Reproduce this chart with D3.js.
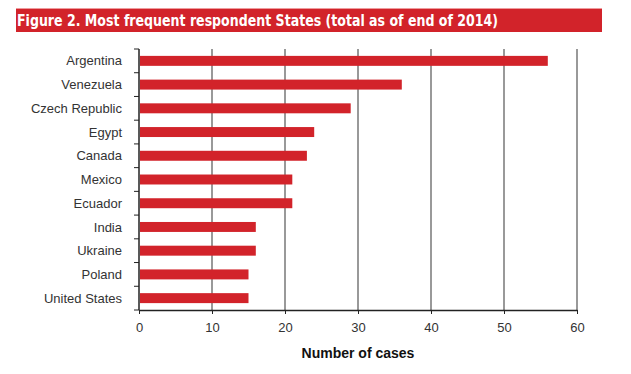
<!DOCTYPE html>
<html>
<head>
<meta charset="utf-8">
<script src="https://cdn.jsdelivr.net/npm/d3@7"></script>
<style>
  body { margin: 0; background: #fff; }
</style>
</head>
<body>
<div id="chart"></div>
<script>
// DATA
const countries = ["Argentina", "Venezuela", "Czech Republic", "Egypt", "Canada", "Mexico",
  "Ecuador", "India", "Ukraine", "Poland", "United States"];
const cases = [56, 36, 29, 24, 23, 21, 21, 16, 16, 15, 15];
const xTicks = [0, 10, 20, 30, 40, 50, 60];

const width = 631, height = 374;
const margin = {top: 49, right: 54, bottom: 64, left: 139};

const svg = d3.select("#chart").append("svg")
  .attr("width", width)
  .attr("height", height)
  .style("font-family", "'Liberation Sans', Arial, sans-serif");

// TITLE BAR
svg.append("rect")
  .attr("x", 16).attr("y", 8).attr("width", 586).attr("height", 24)
  .attr("fill", "#d2232a");
svg.append("rect")
  .attr("x", 16).attr("y", 8).attr("width", 586).attr("height", 1)
  .attr("fill", "#ee9a9d");
svg.append("text")
  .attr("x", 17).attr("y", 25.5)
  .attr("fill", "#fff")
  .attr("font-family", "'DejaVu Sans Condensed', 'Liberation Sans Narrow', sans-serif")
  .attr("font-weight", "bold")
  .attr("font-size", "16.5px")
  .attr("textLength", 481)
  .attr("lengthAdjust", "spacingAndGlyphs")
  .text("Figure 2. Most frequent respondent States (total as of end of 2014)");

// SCALES
const x = d3.scaleLinear().domain([0, 60]).range([margin.left, width - margin.right]);
const y = d3.scaleBand().domain(countries).range([margin.top, height - margin.bottom]).paddingInner(0.58).paddingOuter(0.29);

// GRIDLINES
svg.append("g")
  .selectAll("line")
  .data(xTicks.slice(1))
  .join("line")
  .attr("x1", d => x(d)).attr("x2", d => x(d))
  .attr("y1", margin.top).attr("y2", height - margin.bottom)
  .attr("stroke", "#555")
  .attr("stroke-width", 1.2);

// BARS
svg.append("g")
  .selectAll("rect")
  .data(countries)
  .join("rect")
  .attr("x", x(0) + 1)
  .attr("y", d => y(d))
  .attr("width", (d, i) => x(cases[i]) - x(0) - 1)
  .attr("height", y.bandwidth())
  .attr("fill", "#d2232a");

// Y AXIS (ticks at band boundaries)
const step = (height - margin.bottom - margin.top) / countries.length;
const yAxis = svg.append("g");
yAxis.append("line")
  .attr("x1", x(0)).attr("x2", x(0))
  .attr("y1", margin.top).attr("y2", height - margin.bottom)
  .attr("stroke", "#222").attr("stroke-width", 1.5);
yAxis.selectAll(".tk")
  .data(d3.range(countries.length + 1))
  .join("line")
  .attr("x1", x(0) - 5).attr("x2", x(0))
  .attr("y1", i => margin.top + i * step).attr("y2", i => margin.top + i * step)
  .attr("stroke", "#222");
yAxis.selectAll("text")
  .data(countries)
  .join("text")
  .attr("x", 122)
  .attr("y", d => y(d) + y.bandwidth() / 2)
  .attr("dy", "0.35em")
  .attr("text-anchor", "end")
  .attr("font-size", "13px")
  .attr("fill", "#333")
  .text(d => d);

// X AXIS
const xAxis = svg.append("g")
  .attr("transform", `translate(0,${height - margin.bottom})`)
  .call(d3.axisBottom(x).tickValues(xTicks).tickSize(4).tickSizeOuter(0).tickPadding(9));
xAxis.select(".domain").attr("stroke", "#222").attr("stroke-width", 1.5);
xAxis.selectAll(".tick line").attr("stroke", "#222");
xAxis.selectAll(".tick text")
  .attr("font-family", "'Liberation Sans', Arial, sans-serif")
  .attr("font-size", "13px")
  .attr("fill", "#333");

svg.append("text")
  .attr("x", (x(0) + x(60)) / 2)
  .attr("y", 358)
  .attr("text-anchor", "middle")
  .attr("font-size", "14px")
  .attr("font-weight", "bold")
  .attr("fill", "#111")
  .text("Number of cases");
</script>
</body>
</html>
